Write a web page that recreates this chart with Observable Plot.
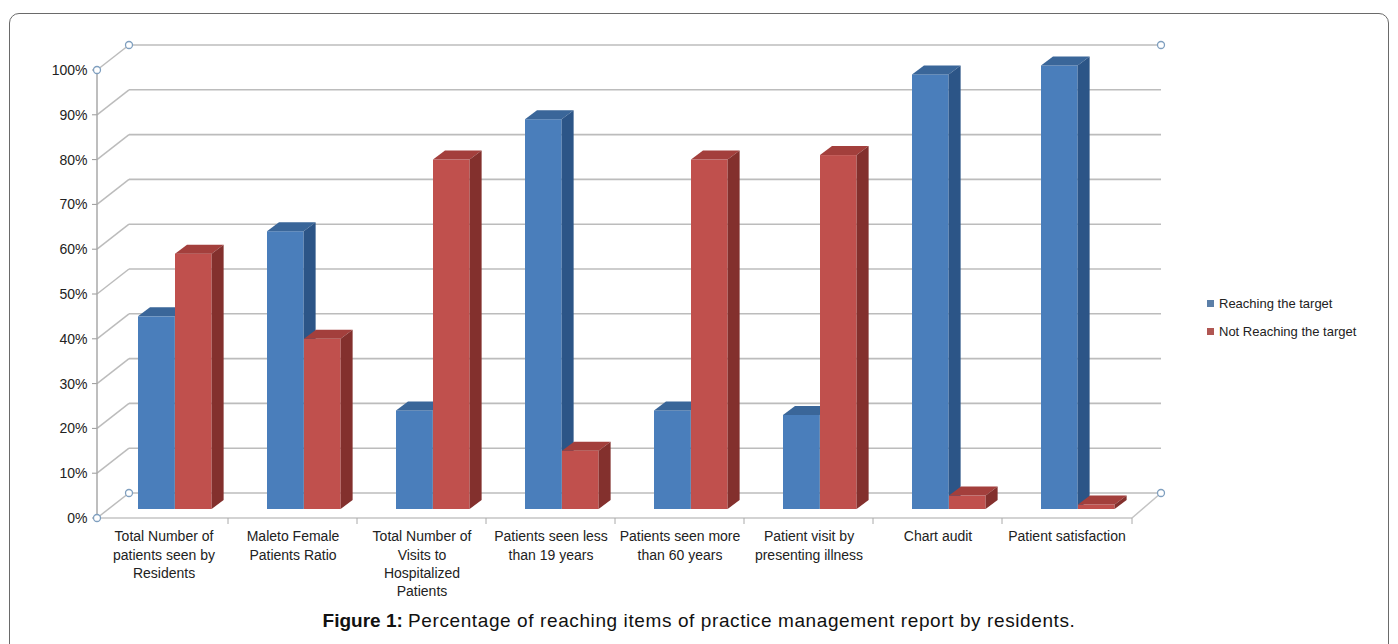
<!DOCTYPE html>
<html><head><meta charset="utf-8">
<script src="https://cdn.jsdelivr.net/npm/d3@7"></script>
<script src="https://cdn.jsdelivr.net/npm/@observablehq/plot@0.6"></script>
<style>
body{margin:0;background:#fff;font-family:"Liberation Sans",Arial,sans-serif;}
#wrap{position:relative;width:1398px;height:644px;overflow:hidden;background:#fff;}
#frame{position:absolute;left:9px;top:13px;width:1378px;height:700px;border:1px solid #6a6a6a;border-radius:10px;}
#chart{position:absolute;left:0;top:0;}
#legend{position:absolute;left:1207px;top:289px;font-size:13px;color:#222;}
.row{display:flex;align-items:center;height:28px;}
.sw{width:7px;height:7px;margin-right:5px;}
#caption{position:absolute;left:0;width:1398px;top:609px;text-align:center;font-size:19px;line-height:24px;color:#111;}
#caption span{letter-spacing:0.6px;}
</style></head>
<body>
<div id="wrap">
  <div id="frame"></div>
  <div id="chart"></div>
  <div id="legend"></div>
  <div id="caption"><b>Figure 1:</b> <span>Percentage of reaching items of practice management report by residents.</span></div>
</div>
<script>
// ---- data ----
const categories = ["Total Number of patients seen by Residents", "Maleto Female Patients Ratio", "Total Number of Visits to Hospitalized Patients", "Patients seen less than 19 years", "Patients seen more than 60 years", "Patient visit by presenting illness", "Chart audit", "Patient satisfaction"];
const categoryLabels = ["Total Number of\npatients seen by\nResidents", "Maleto Female\nPatients Ratio", "Total Number of\nVisits to\nHospitalized\nPatients", "Patients seen less\nthan 19 years", "Patients seen more\nthan 60 years", "Patient visit by\npresenting illness", "Chart audit", "Patient satisfaction"];
const seriesNames = ["Reaching the target", "Not Reaching the target"];
const reaching = [43, 62, 22, 87, 22, 21, 97, 99];
const notReaching = [57, 38, 78, 13, 78, 79, 3, 1];
const yTicks = [0, 10, 20, 30, 40, 50, 60, 70, 80, 90, 100];

// ---- style ----
const FONT = '"Liberation Sans", Arial, sans-serif';
const COLORS = {
  blue: {front: "#4a7ebb", top: "#3a6699", side: "#2c5587", legend: "#5b7fa8"},
  red: {front: "#c0504d", top: "#a33f3c", side: "#83302d", legend: "#b05652"}
};
const DEPTH_DX = 12, DEPTH_DY = -9;   // bar extrusion
const BACK_DX = 32, BACK_DY = -25;    // back wall offset

const dataBlue = categories.map((c, i) => ({category: c, value: reaching[i]}));
const dataRed = categories.map((c, i) => ({category: c, value: notReaching[i]}));

const SVGNS = "http://www.w3.org/2000/svg";
function el(name, attrs) {
  const e = document.createElementNS(SVGNS, name);
  for (const k in attrs) e.setAttribute(k, attrs[k]);
  return e;
}

function extrude(col) {
  return function(index, scales, values, dimensions, context, next) {
    const g = next(index, scales, values, dimensions, context);
    const rects = Array.from(g.querySelectorAll("rect"));
    for (const r of rects) {
      const x = +r.getAttribute("x"), y = +r.getAttribute("y");
      const w = +r.getAttribute("width"), h = +r.getAttribute("height");
      const dx = DEPTH_DX, dy = DEPTH_DY;
      const top = el("polygon", {
        points: `${x},${y} ${x + dx},${y + dy} ${x + w + dx},${y + dy} ${x + w},${y}`,
        fill: col.top
      });
      const side = el("polygon", {
        points: `${x + w},${y} ${x + w + dx},${y + dy} ${x + w + dx},${y + h + dy} ${x + w},${y + h}`,
        fill: col.side
      });
      r.parentNode.appendChild(top);
      r.parentNode.appendChild(side);
    }
    return g;
  };
}

function deco(index, scales, values, dimensions) {
  const {width, height, marginLeft, marginRight} = dimensions;
  const L = marginLeft, R = width - marginRight;
  const y = scales.y;
  const g = el("g", {fill: "none"});
  const grid = "#bcbcbc";
  for (const v of yTicks) {
    const yy = y(v);
    g.appendChild(el("line", {x1: L, y1: yy, x2: L + BACK_DX, y2: yy + BACK_DY, stroke: grid, "stroke-width": 1.5}));
    g.appendChild(el("line", {x1: L + BACK_DX, y1: yy + BACK_DY, x2: R + BACK_DX - 3, y2: yy + BACK_DY, stroke: grid, "stroke-width": 1.6}));
    g.appendChild(el("line", {x1: L - 5, y1: yy, x2: L, y2: yy, stroke: "#999", "stroke-width": 1}));
  }
  const y0 = y(0), y1 = y(100);
  g.appendChild(el("line", {x1: L, y1: y1, x2: L, y2: y0, stroke: "#a8a8a8", "stroke-width": 1.5}));
  g.appendChild(el("line", {x1: L, y1: y0, x2: R, y2: y0, stroke: "#c4c4c4", "stroke-width": 1.5}));
  g.appendChild(el("line", {x1: R, y1: y0, x2: R + BACK_DX - 3, y2: y0 + BACK_DY, stroke: "#c4c4c4", "stroke-width": 1.5}));
  for (let k = 1; k <= categories.length; k++) {
    const xx = k < categories.length ? scales.x(categories[k]) : R;
    g.appendChild(el("line", {x1: xx, y1: y0, x2: xx, y2: y0 + 6, stroke: "#aaa", "stroke-width": 1}));
  }
  const handles = [[L, y1], [L + BACK_DX, y1 + BACK_DY], [R + BACK_DX - 3, y1 + BACK_DY], [L, y0], [L + BACK_DX, y0 + BACK_DY], [R + BACK_DX - 3, y0 + BACK_DY]];
  for (const [hx, hy] of handles) {
    g.appendChild(el("circle", {cx: hx, cy: hy, r: 3.5, fill: "#fff", stroke: "#7f9fbf", "stroke-width": 1.3}));
  }
  return g;
}

const BAND = (1132 - 97) / categories.length;

const chart = Plot.plot({
  width: 1398,
  height: 600,
  marginLeft: 97,
  marginRight: 266,
  marginTop: 70,
  marginBottom: 82,
  style: {fontFamily: FONT, fontSize: "14px", color: "#222", background: "transparent"},
  x: {domain: categories, padding: 0, axis: null},
  y: {domain: [0, 100], ticks: yTicks, tickFormat: d => d + "%", tickSize: 0, tickPadding: 10, label: null},
  marks: [
    Plot.ruleY(yTicks, {stroke: "none", render: deco}),
    Plot.barY(dataBlue, {x: "category", y: "value", fill: COLORS.blue.front, insetLeft: 39, insetRight: BAND - 76, dy: -9, render: extrude(COLORS.blue)}),
    Plot.barY(dataRed, {x: "category", y: "value", fill: COLORS.red.front, insetLeft: 76, insetRight: BAND - 113, dy: -9, render: extrude(COLORS.red)}),
    Plot.text(categories, {x: d => d, text: (d, i) => categoryLabels[i], frameAnchor: "bottom", lineAnchor: "top", dy: 10, lineHeight: 1.3, fontSize: 14, fill: "#222"})
  ]
});
document.getElementById("chart").appendChild(chart);

const legend = document.getElementById("legend");
[[seriesNames[0], COLORS.blue.legend], [seriesNames[1], COLORS.red.legend]].forEach(([name, c]) => {
  const row = document.createElement("div");
  row.className = "row";
  const sw = document.createElement("div");
  sw.className = "sw";
  sw.style.background = c;
  const t = document.createElement("span");
  t.textContent = name;
  row.appendChild(sw);
  row.appendChild(t);
  legend.appendChild(row);
});
</script>
</body></html>
